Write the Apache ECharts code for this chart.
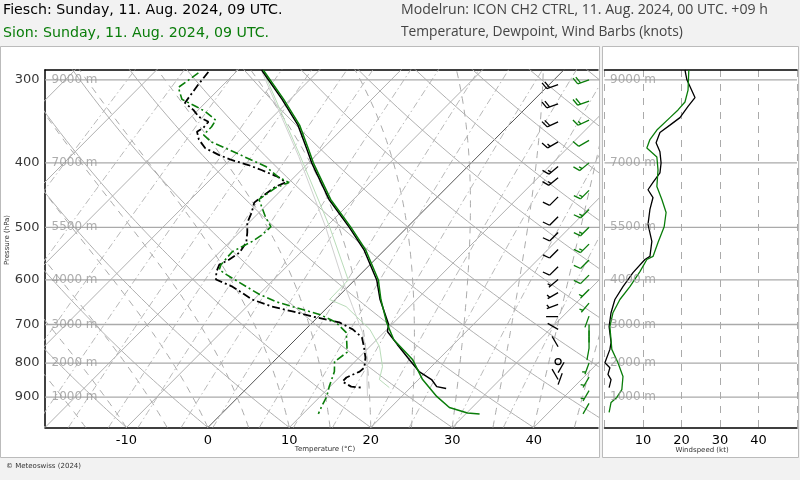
<!DOCTYPE html>
<html><head><meta charset="utf-8">
<script src="https://cdn.jsdelivr.net/npm/echarts@6/dist/echarts.min.js"></script>
<style>html,body{margin:0;padding:0;background:#f2f2f2;}#c{width:800px;height:480px;}</style>
</head><body><div id="c"></div>
<script>
// ---------------- DATA ----------------
const pressureLevels = [300, 400, 500, 600, 700, 800, 900];
const heightLabels = ['9000 m', '7000 m', '5500 m', '4000 m', '3000 m', '2000 m', '1000 m'];
// [pressure hPa, temperature °C]
const fieschTemp = [[290,-37.1],[321,-31.0],[351,-25.9],[382,-21.8],[400,-19.6],[454,-13.0],[500,-7.1],[540,-2.6],[600,2.7],[642,5.5],[700,9.6],[717,10.3],[750,13.1],[790,16.4],[824,19.1],[847,21.6],[868,23.1],[874,24.5]];
const sionTemp = [[290,-36.9],[321,-30.8],[351,-25.7],[382,-21.6],[400,-19.4],[454,-12.8],[500,-6.9],[540,-2.4],[600,2.9],[642,5.6],[695,9.1],[738,12.1],[790,16.8],[847,20.5],[898,24.3],[933,27.2],[951,30.1],[954,31.7]];
const fieschDew = [[292,-43.4],[305,-43.1],[325,-42.5],[333,-40.6],[341,-39.1],[347,-37.3],[354,-37.2],[359,-37.5],[369,-36.3],[380,-34.5],[389,-32.0],[396,-29.8],[403,-27.1],[410,-24.9],[420,-22.0],[428,-20.4],[434,-21.1],[450,-21.6],[459,-21.8],[475,-20.9],[492,-20.2],[509,-19.0],[527,-17.9],[546,-17.5],[559,-17.9],[569,-18.5],[583,-18.0],[599,-17.1],[614,-14.2],[642,-10.2],[658,-6.9],[669,-3.8],[681,-0.7],[695,3.3],[712,5.8],[732,7.9],[758,9.4],[785,10.8],[813,11.9],[824,11.8],[841,10.9],[853,10.9],[868,12.6],[871,14.0]];
const sionDew = [[293,-44.5],[308,-45.2],[321,-43.3],[329,-40.7],[335,-38.9],[345,-36.6],[353,-36.3],[363,-36.3],[372,-34.5],[382,-31.4],[392,-28.5],[405,-24.8],[420,-22.0],[428,-20.0],[436,-21.0],[454,-21.6],[482,-18.7],[499,-16.8],[513,-16.9],[525,-17.3],[544,-18.5],[569,-18.3],[579,-17.9],[589,-16.4],[614,-12.5],[631,-9.9],[647,-7.0],[658,-4.4],[676,-0.1],[695,2.9],[720,5.4],[756,7.2],[771,7.9],[796,7.5],[824,8.7],[868,9.9],[898,10.8],[930,11.4],[954,11.9]];
const parcelGray = [[292,-36.8],[391,-22.0],[500,-10.0],[600,-1.5],[658,3.0],[720,7.4],[790,11.3],[850,13.8],[898,15.8]];
const parcelGreen = [[292,-36.6],[391,-21.8],[500,-9.5],[600,-0.8],[642,-0.7],[658,2.2],[712,7.9],[756,11.2],[810,14.0],[847,15.2],[871,17.4]];
// [pressure hPa, speed kt]
const fieschSpeed = [[290,20.9],[300,21.4],[319,23.5],[329,21.7],[342,19.6],[351,17.0],[360,14.4],[373,13.4],[385,14.4],[400,14.7],[414,14.4],[428,12.6],[439,11.3],[451,12.6],[470,11.8],[495,11.3],[525,12.3],[553,11.8],[559,10.5],[585,7.4],[614,4.8],[642,2.7],[672,1.7],[705,1.2],[745,1.7],[763,1.4],[799,0.1],[813,1.4],[832,0.9],[847,1.7],[871,1.2]];
const sionSpeed = [[290,21.9],[311,21.7],[324,20.9],[333,19.1],[342,17.0],[357,13.6],[369,11.8],[380,11.0],[392,13.6],[410,13.9],[434,13.6],[454,14.9],[475,16.0],[499,15.5],[527,13.9],[553,12.6],[559,11.0],[583,9.2],[614,6.6],[642,4.0],[672,2.2],[705,1.4],[763,1.9],[799,3.5],[838,4.8],[877,4.5],[901,3.2],[917,1.7],[949,1.2]];
// wind barbs [pressure hPa, speed kt, direction deg]
const fieschBarbs = [[305,21,250],[326,22,250],[347,18,245],[372,13,240],[405,14,230],[421,13,230],[450,12,225],[482,11,225],[509,11,225],[540,12,225],[573,9,225],[599,6,230],[627,4,240],[653,3,250],[681,2,270],[712,1,300],[756,2,330],[796,0,0],[827,1,30],[847,2,330],[862,1,20]];
const sionBarbs = [[300,22,250],[323,21,250],[345,17,245],[370,12,240],[400,14,230],[440,14,225],[470,16,225],[500,15,225],[530,14,225],[560,11,225],[590,9,225],[620,6,225],[650,4,220],[680,2,200],[700,2,180],[715,2,180],[730,2,180],[760,2,190],[800,4,200],[840,5,210],[880,4,210],[920,2,210]];

// ---------------- GEOMETRY / HELPERS ----------------
const PTOP = 290, PBOT = 1000, XMIN = -20, XMAX = 47.9, K = 35.3;
const sk = (p, T) => [T + K * Math.log(1000 / p), p];
const es = Tc => 6.112 * Math.exp(17.67 * Tc / (Tc + 243.5));

const series = [];
function bgLine(pts, style, z) {
  series.push({type: 'line', xAxisIndex: 0, yAxisIndex: 0, data: pts, symbol: 'none', silent: true,
    animation: false, clip: true, lineStyle: style, z: z || 1});
}
const presSteps = [];
for (let p = 1000; p >= 280; p -= 10) presSteps.push(p);
// isotherms
for (let T = -60; T <= 50; T += 10) bgLine([sk(1000, T), sk(280, T)], {color: T === 0 ? '#555' : '#b0b0b0', width: 1});
// dry adiabats
for (let th = -20; th <= 160; th += 10) bgLine(presSteps.map(p => sk(p, (th + 273.15) * Math.pow(p / 1000, 0.2857) - 273.15)), {color: '#b0b0b0', width: 1});
// moist adiabats
function moist(T0) {
  const pts = []; let T = T0 + 273.15;
  for (let p = 1000; p >= 280; p -= 2) {
    if (p % 10 === 0) pts.push(sk(p, T - 273.15));
    const e = es(T - 273.15), rs = 0.622 * e / (p - e), Lv = 2.501e6, Rd = 287.04, cp = 1005.7;
    const b = (Rd * T + Lv * rs) / (cp + Lv * Lv * rs * 0.622 / (Rd * T * T));
    T -= b / p * 2;
  }
  return pts;
}
for (let t = -20; t <= 45; t += 5) bgLine(moist(t), {color: '#ababab', width: 1, type: [7, 6]});
// mixing ratio lines
for (const w of [0.1, 0.2, 0.4, 0.7, 1, 1.5, 2, 3, 4, 6, 8, 11, 15, 20, 28, 40]) {
  bgLine(presSteps.map(p => { const e = w * p / (622 + w), l = Math.log(e / 6.112); return sk(p, 243.5 * l / (17.67 - l)); }),
    {color: '#b8b8b8', width: 1, type: [7, 3, 1.5, 3]});
}
// isobars
for (const p of pressureLevels) {
  bgLine([[XMIN, p], [XMAX + 1, p]], {color: '#aaa', width: 1.3}, 2);
  series.push({type: 'line', xAxisIndex: 1, yAxisIndex: 1, data: [[0, p], [50, p]], symbol: 'none', silent: true, animation: false, lineStyle: {color: '#aaa', width: 1.3}, z: 2});
}
// labels
series.push({type: 'scatter', xAxisIndex: 0, yAxisIndex: 0, clip: false, silent: true, animation: false, symbolSize: 1, itemStyle: {color: 'rgba(0,0,0,0)'},
  data: pressureLevels.map(p => ({value: [XMIN, p], label: {formatter: String(p)}})),
  label: {show: true, position: 'left', distance: 5, color: '#000', fontSize: 13, fontFamily: 'DejaVu Sans'}, z: 6});
series.push({type: 'scatter', xAxisIndex: 0, yAxisIndex: 0, clip: false, silent: true, animation: false, symbolSize: 1, itemStyle: {color: 'rgba(0,0,0,0)'},
  data: pressureLevels.map((p, i) => ({value: [XMIN, p], label: {formatter: heightLabels[i]}})),
  label: {show: true, position: 'right', distance: 6, color: '#999', fontSize: 12, fontFamily: 'DejaVu Sans'}, z: 6});
series.push({type: 'scatter', xAxisIndex: 1, yAxisIndex: 1, clip: false, silent: true, animation: false, symbolSize: 1, itemStyle: {color: 'rgba(0,0,0,0)'},
  data: pressureLevels.map((p, i) => ({value: [0, p], label: {formatter: heightLabels[i]}})),
  label: {show: true, position: 'right', distance: 5, color: '#999', fontSize: 12, fontFamily: 'DejaVu Sans'}, z: 6});

// profile lines
function prof(data, color, width, type, z) {
  series.push({type: 'line', xAxisIndex: 0, yAxisIndex: 0, data: data.map(d => sk(d[0], d[1])), symbol: 'none', silent: true, animation: false, clip: true,
    lineStyle: {color: color, width: width, type: type}, z: z});
}
prof(parcelGray, '#d0d0d0', 1, 'solid', 3);
prof(parcelGreen, '#b9dcb9', 1, 'solid', 3);
prof(fieschDew, '#000', 1.8, [8, 3, 2, 3], 4);
prof(sionDew, '#0a7d0a', 1.6, [8, 3, 2, 3], 4);
prof(fieschTemp, '#000', 1.5, 'solid', 4);
prof(sionTemp, '#0a7d0a', 1.5, 'solid', 5);
// wind speed lines
series.push({type: 'line', xAxisIndex: 1, yAxisIndex: 1, data: fieschSpeed.map(d => [d[1], d[0]]), symbol: 'none', animation: false, silent: true, lineStyle: {color: '#000', width: 1.3}, z: 4});
series.push({type: 'line', xAxisIndex: 1, yAxisIndex: 1, data: sionSpeed.map(d => [d[1], d[0]]), symbol: 'none', animation: false, silent: true, lineStyle: {color: '#0a7d0a', width: 1.3}, z: 5});

// wind barbs
function barbs(data, xPos, color) {
  series.push({type: 'custom', xAxisIndex: 0, yAxisIndex: 0, clip: true, silent: true, animation: false, z: 6,
    data: data.map(d => [xPos, d[0], d[1], d[2]]),
    renderItem: (params, api) => {
      const c = api.coord([api.value(0), api.value(1)]);
      const spd = api.value(2), dir = api.value(3) * Math.PI / 180;
      const st = {stroke: color, lineWidth: 1.3, fill: null};
      if (spd < 0.5) return {type: 'circle', shape: {cx: c[0], cy: c[1], r: 3}, style: st};
      const L = 12, ux = Math.sin(dir), uy = -Math.cos(dir), bx = Math.cos(dir), by = Math.sin(dir);
      const tip = [c[0] + L * ux, c[1] + L * uy];
      const ch = [{type: 'line', shape: {x1: c[0], y1: c[1], x2: tip[0], y2: tip[1]}, style: st}];
      let r = Math.round(spd / 5) * 5, pos = 0;
      const n10 = Math.floor(r / 10), n5 = (r % 10) >= 5 ? 1 : 0;
      for (let i = 0; i < n10; i++) {
        const sx = tip[0] - pos * ux, sy = tip[1] - pos * uy;
        ch.push({type: 'line', shape: {x1: sx, y1: sy, x2: sx + 7 * bx + 2.5 * ux, y2: sy + 7 * by + 2.5 * uy}, style: st});
        pos += 3;
      }
      if (n5) {
        if (pos === 0) pos = 2.5;
        const sx = tip[0] - pos * ux, sy = tip[1] - pos * uy;
        ch.push({type: 'line', shape: {x1: sx, y1: sy, x2: sx + 3.5 * bx + 1.2 * ux, y2: sy + 3.5 * by + 1.2 * uy}, style: st});
      }
      return {type: 'group', children: ch};
    }});
}
barbs(fieschBarbs, 43.0, '#000');
barbs(sionBarbs, 46.8, '#0a7d0a');

const chart = echarts.init(document.getElementById('c'), null, {renderer: 'canvas', width: 800, height: 480});
const font = 'DejaVu Sans';
chart.setOption({
  animation: false,
  backgroundColor: '#f2f2f2',
  textStyle: {fontFamily: font},
  grid: [
    {left: 45, top: 70, width: 553, height: 357.5, containLabel: false},
    {left: 604.5, top: 70, width: 192.5, height: 357.5, containLabel: false}
  ],
  xAxis: [
    {type: 'value', gridIndex: 0, min: XMIN, max: XMAX, interval: 10, splitLine: {show: false}, axisTick: {show: false},
      axisLine: {show: true, onZero: false, lineStyle: {color: '#000', width: 1.5}},
      axisLabel: {color: '#000', fontSize: 13, margin: 7, showMinLabel: false, showMaxLabel: false, fontFamily: font}},
    {type: 'value', gridIndex: 1, min: 0, max: 50, interval: 10, axisTick: {show: false},
      axisLine: {show: true, onZero: false, lineStyle: {color: '#000', width: 1.5}},
      splitLine: {show: true, lineStyle: {color: '#aaa', type: [7, 7], width: 1}},
      axisLabel: {color: '#000', fontSize: 13, margin: 7, showMinLabel: false, showMaxLabel: false, fontFamily: font}},
    {type: 'value', gridIndex: 0, position: 'top', min: XMIN, max: XMAX, axisLabel: {show: false}, axisTick: {show: false}, splitLine: {show: false},
      axisLine: {show: true, onZero: false, lineStyle: {color: '#000', width: 1.5}}},
    {type: 'value', gridIndex: 1, position: 'top', min: 0, max: 50, axisLabel: {show: false}, axisTick: {show: false}, splitLine: {show: false},
      axisLine: {show: true, onZero: false, lineStyle: {color: '#000', width: 1.5}}}
  ],
  yAxis: [
    {type: 'log', gridIndex: 0, min: PTOP, max: PBOT, inverse: true, axisLabel: {show: false}, axisTick: {show: false}, splitLine: {show: false},
      axisLine: {show: true, onZero: false, lineStyle: {color: '#000', width: 1.5}}},
    {type: 'log', gridIndex: 1, min: PTOP, max: PBOT, inverse: true, axisLabel: {show: false}, axisTick: {show: false}, splitLine: {show: false},
      axisLine: {show: false}}
  ],
  graphic: [
    {type: 'rect', z: -10, shape: {x: 0.5, y: 46.5, width: 599, height: 411}, style: {fill: '#fff', stroke: '#bbb', lineWidth: 1}},
    {type: 'rect', z: -10, shape: {x: 602.5, y: 46.5, width: 196, height: 411}, style: {fill: '#fff', stroke: '#bbb', lineWidth: 1}},
    {type: 'text', left: 3, top: 3, style: {text: 'Fiesch: Sunday, 11. Aug. 2024, 09 UTC.', fill: '#000', font: '14.2px "DejaVu Sans"'}},
    {type: 'text', left: 3, top: 26, style: {text: 'Sion: Sunday, 11. Aug. 2024, 09 UTC.', fill: '#0a7d0a', font: '14.2px "DejaVu Sans"'}},
    {type: 'text', left: 401, top: 3, style: {text: 'Modelrun: ICON CH2 CTRL, 11. Aug. 2024, 00 UTC. +09 h', fill: '#444', font: '14.1px "Open Sans"'}},
    {type: 'text', left: 401, top: 25, style: {text: 'Temperature, Dewpoint, Wind Barbs (knots)', fill: '#444', font: '13.8px "Open Sans"'}},
    {type: 'text', x: 325, y: 449, style: {text: 'Temperature (°C)', fill: '#333', font: '7px "DejaVu Sans"', textAlign: 'center', textVerticalAlign: 'middle'}},
    {type: 'text', x: 702, y: 450, style: {text: 'Windspeed (kt)', fill: '#333', font: '7px "DejaVu Sans"', textAlign: 'center', textVerticalAlign: 'middle'}},
    {type: 'text', x: 7, y: 240, rotation: Math.PI / 2, style: {text: 'Pressure (hPa)', fill: '#333', font: '7px "DejaVu Sans"', textAlign: 'center', textVerticalAlign: 'middle'}},
    {type: 'text', left: 6, top: 463, style: {text: '© Meteoswiss (2024)', fill: '#333', font: '7px "DejaVu Sans"'}}
  ],
  series: series
});
</script></body></html>
